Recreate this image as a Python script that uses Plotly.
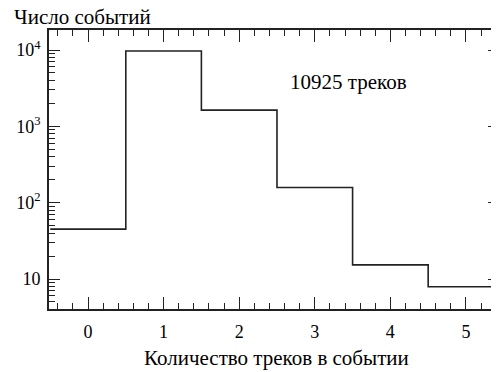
import plotly.graph_objects as go

# Data
track_counts = [0, 1, 2, 3, 4, 5]
events = [45, 9700, 1630, 158, 15.3, 7.9]
ytick_vals = [10, 100, 1000, 10000]
ytick_text = ["10", "10<sup>2</sup>", "10<sup>3</sup>", "10<sup>4</sup>"]
xtick_vals = [0, 1, 2, 3, 4, 5]

edges = [c - 0.5 for c in track_counts] + [track_counts[-1] + 0.5]
yvals = events + [events[-1]]
y_minor = [m * d for d in [1, 10, 100, 1000, 10000] for m in range(2, 10)]

FONT = "Liberation Serif, Times New Roman, Times, serif"
INK = "#222"
fig = go.Figure()
fig.add_trace(go.Scatter(x=edges, y=yvals, mode="lines", line_shape="hv",
                         line=dict(color=INK, width=1.6), showlegend=False))

fig.add_annotation(x=3.44, y=3.585, text="10925 треков", showarrow=False,
                   font=dict(family=FONT, size=21, color="black"))
fig.add_annotation(xref="paper", yref="paper", x=-0.082, y=1.045, xanchor="left", yanchor="middle",
                   text="Число событий", showarrow=False,
                   font=dict(family=FONT, size=21, color="black"))
fig.add_annotation(xref="paper", yref="paper", x=0.506, y=-0.175, xanchor="center", yanchor="middle",
                   text="Количество треков в событии", showarrow=False,
                   font=dict(family=FONT, size=21, color="black"))

axis_common = dict(showline=True, linecolor=INK, linewidth=1.6, mirror="allticks",
                   ticks="inside", tickcolor=INK, tickwidth=1.3,
                   showgrid=False, zeroline=False, automargin=False,
                   tickfont=dict(family=FONT, size=18, color="black"))

fig.update_xaxes(range=[-0.516, 5.437], tickmode="array", tickvals=xtick_vals, ticklen=12,
                 ticklabelstandoff=6,
                 minor=dict(ticks="inside", ticklen=6, dtick=0.2, tick0=0, tickcolor=INK, tickwidth=1.3),
                 **axis_common)
fig.update_yaxes(type="log", range=[0.607, 4.262], tickmode="array", tickvals=ytick_vals, ticktext=ytick_text,
                 ticklen=11, ticklabelstandoff=3,
                 minor=dict(ticks="inside", ticklen=6, tickmode="array", tickvals=y_minor, tickcolor=INK, tickwidth=1.3),
                 **axis_common)

# page body has an 8px default margin, so the figure is sized/offset to compensate
fig.update_layout(template="none", width=491, height=364, margin=dict(l=41, r=0, t=22, b=63),
                  font=dict(family=FONT, size=18, color="black"),
                  plot_bgcolor="white", paper_bgcolor="white")

fig.write_html("out.html")
